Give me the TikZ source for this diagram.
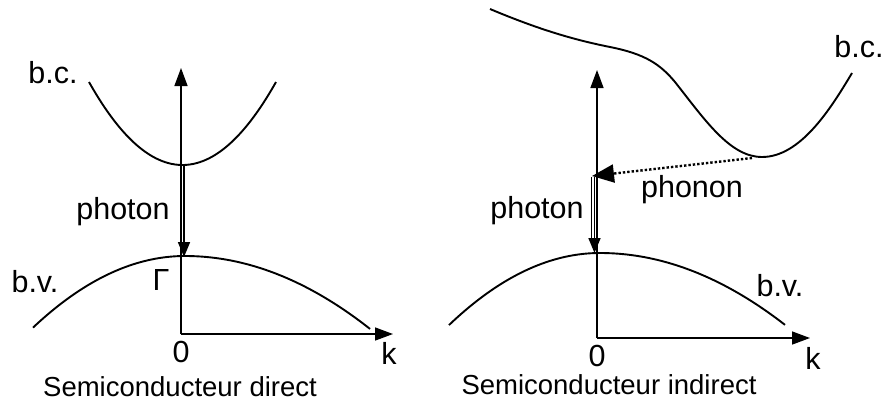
\documentclass[tikz,border=0pt]{standalone}
\usepackage{fontspec}
\setmainfont{Liberation Sans}
\usetikzlibrary{arrows.meta}
\tikzset{
  lbl/.style={font=\fontsize{30.5}{34}\selectfont, inner sep=0pt},
  captxt/.style={font=\fontsize{27.5}{31}\selectfont, inner sep=0pt},
  axis/.style={line width=1.5pt, -{Triangle[length=18pt,width=13pt]}},
  band/.style={line width=1.9pt},
  photonarrow/.style={line width=1.7pt, -{Triangle[length=15pt,width=12pt]}},
  photonside/.style={line width=1.4pt},
  phononarrow/.style={line width=2.4pt, dash pattern=on 2.4pt off 2pt, -{Triangle[length=22pt,width=18pt]}},
}
\begin{document}
\begin{tikzpicture}[x=1pt,y=-1pt]
\useasboundingbox (0,0) rectangle (884,405);
% ---------- left: direct ----------
\coordinate (O1) at (181,334);
\coordinate (Y1) at (181,68);
\coordinate (K1) at (393,334);
\draw[axis] (O1) -- (Y1);
\draw[axis] (O1) -- (K1);
\draw[band] plot[domain=89:276, samples=60] (\x, {165-83*((\x-182.5)/93.5)^2});
\draw[band] plot[domain=33:185, samples=50] (\x, {256+31*((\x-185)/100)^2})
            -- plot[domain=185:370, samples=50] (\x, {256+21.3*((\x-185)/100)^2});
\coordinate (P1a) at (184,166);
\coordinate (P1b) at (184,257);
\draw[photonarrow] (P1a) -- (P1b);
\node[lbl] (bc1) at (53,73) {b.c.};
\node[lbl] (bv1) at (35,282) {b.v.};
\node[lbl] (ph1) at (123,212) {photon};
\node[lbl] (G1) at (161,280) {Γ};
\node[lbl] (z1) at (181,352) {0};
\node[lbl] (k1) at (389,353) {k};
\node[captxt] (c1) at (180,387) {Semiconducteur direct};
% ---------- right: indirect ----------
\coordinate (O2) at (597,338);
\coordinate (Y2) at (597,70);
\coordinate (K2) at (810,338);
\draw[axis] (O2) -- (Y2);
\draw[axis] (O2) -- (K2);
\draw[band] plot[domain=449:600, samples=50] (\x, {253+31.6*((\x-600)/100)^2})
            -- plot[domain=600:785, samples=50] (\x, {253+21*((\x-600)/100)^2});
\draw[band] (490,9) .. controls (540,30) and (575,40) .. (610,47)
            .. controls (645,54) and (660,64) .. (675,82)
            .. controls (705,120) and (730,157) .. (762,157)
            .. controls (800,157) and (830,110) .. (852,73);
\coordinate (P2a) at (594.5,177);
\coordinate (P2b) at (594.5,253);
\coordinate (S2a) at (591.5,177);
\coordinate (S2b) at (591.5,242);
\coordinate (T2) at (592,176);
\coordinate (Q2) at (752,158);
\draw[photonside] (S2a) -- (S2b);
\draw[photonarrow] (P2a) -- (P2b);
\draw[phononarrow] (Q2) -- (T2);
\node[lbl] (bc2) at (859,47) {b.c.};
\node[lbl] (bv2) at (780,286) {b.v.};
\node[lbl] (ph2) at (537,211) {photon};
\node[lbl] (pn2) at (692,190) {phonon};
\node[lbl] (z2) at (597,356) {0};
\node[lbl] (k2) at (813,358) {k};
\node[captxt] (c2) at (609,385) {Semiconducteur indirect};
\end{tikzpicture}
\end{document}
